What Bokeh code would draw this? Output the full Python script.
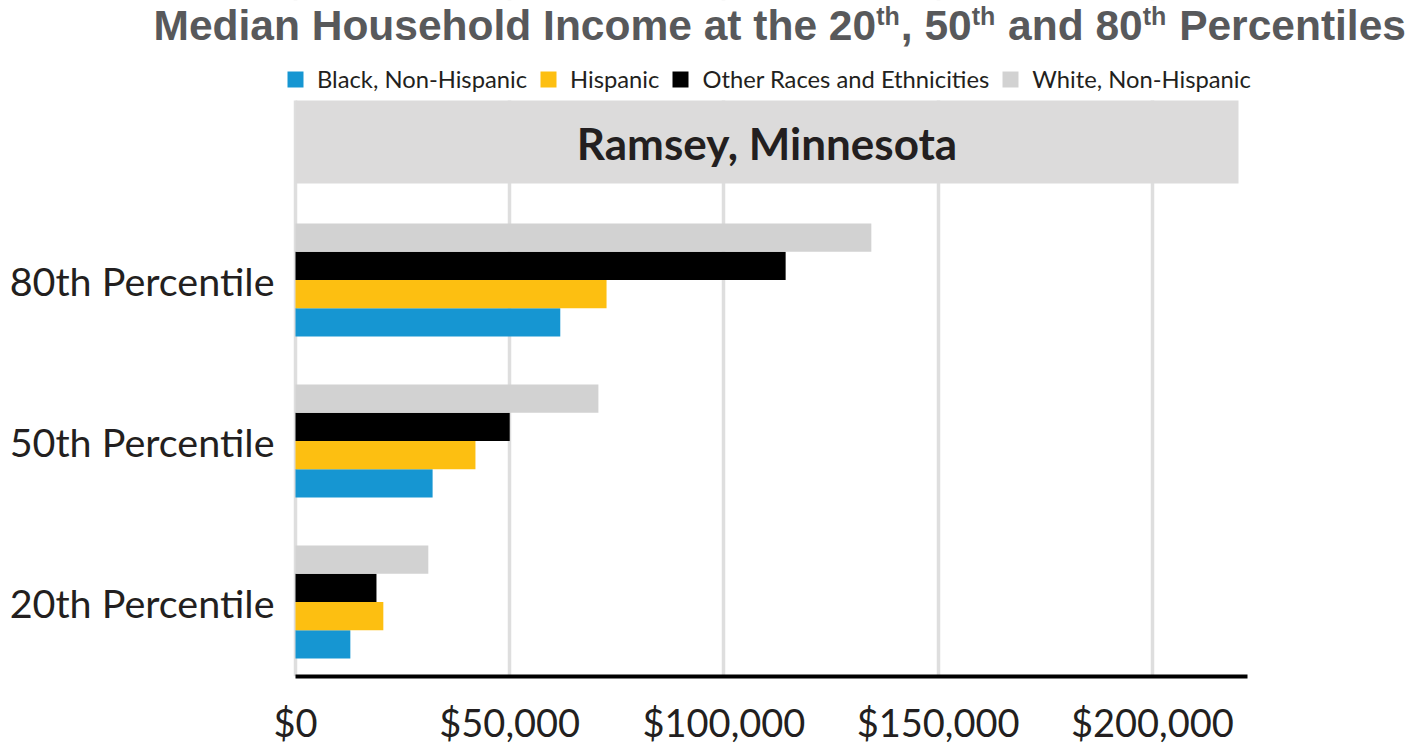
from bokeh.plotting import figure
from bokeh.models import (ColumnDataSource, FixedTicker, NumeralTickFormatter,
                          BoxAnnotation, Label, Legend, LegendItem, Range1d)
from bokeh.core.properties import value
from bokeh.transform import dodge
from bokeh.embed import file_html
from bokeh.resources import INLINE

# ---------------- data ----------------
categories = ["20th Percentile", "50th Percentile", "80th Percentile"]
series_names = ["Black, Non-Hispanic", "Hispanic", "Other Races and Ethnicities", "White, Non-Hispanic"]
black_nh = [12800, 32000, 61800]
hispanic = [20500, 42000, 72600]
other_races = [18900, 50000, 114400]
white_nh = [31000, 70700, 134400]
x_ticks = [0, 50000, 100000, 150000, 200000]
facet_label = "Ramsey, Minnesota"
title_parts = [("Median Household Income at the 20", False), ("th", True), (", 50", False),
               ("th", True), (" and 80", False), ("th", True), (" Percentiles", False)]

colors = ["#1696d2", "#fdbf11", "#000000", "#d2d2d2"]

# ---------------- layout helpers (canvas px -> data) ----------------
W, H = 1426, 747
ZERO_PX, AXIS_END_PX = 295, 1247
AXIS_Y_PX = 676
X_PER_PX = 222200 / (AXIS_END_PX - ZERO_PX)
CAT_PX = [601.3, 440.3, 279.5]
PX_PER_CAT = 161.0


def xd(px):
    return (px - ZERO_PX) * X_PER_PX


def yd(py):
    return 2 + (CAT_PX[2] - py) / PX_PER_CAT


p = figure(width=W, height=H, output_backend="svg", toolbar_location=None,
           x_range=Range1d(xd(0), xd(W)), y_range=Range1d(yd(AXIS_Y_PX), yd(0)),
           y_axis_type=None,
           min_border_left=0, min_border_right=0, min_border_top=0,
           min_border_bottom=H - AXIS_Y_PX,
           outline_line_color=None, background_fill_color="white",
           border_fill_color="white")

source = ColumnDataSource(dict(y=list(range(len(categories))), cat=categories,
                               black=black_nh, hisp=hispanic, other=other_races,
                               white=white_nh))

bar_h = 0.1755
offsets = [-1.5 * bar_h, -0.5 * bar_h, 0.5 * bar_h, 1.5 * bar_h]
fields = ["black", "hisp", "other", "white"]
renderers = []
for f, off, c in zip(fields, offsets, colors):
    r = p.hbar(y=dodge("y", off, range=p.y_range), left=0, right=f, height=bar_h,
               fill_color=c, line_color=None, source=source)
    renderers.append(r)

# category labels (y axis)
p.text(x=xd(274), y="y", text="cat", source=source, text_align="right",
       text_baseline="middle", text_font=value("Lato"), text_font_size="39.5px",
       text_color="#231f20")

# x axis
p.xaxis.ticker = FixedTicker(ticks=x_ticks)
p.xaxis.bounds = (0, xd(AXIS_END_PX))
p.xaxis.formatter = NumeralTickFormatter(format="$0,0")
p.xaxis.axis_line_width = 4
p.xaxis.axis_line_color = "black"
p.xaxis.major_tick_line_color = None
p.xaxis.minor_tick_line_color = None
p.xaxis.major_label_text_font = "Lato"
p.xaxis.major_label_text_font_size = "38px"
p.xaxis.major_label_text_color = "#231f20"
p.xaxis.major_label_standoff = 16

p.xgrid.ticker = FixedTicker(ticks=x_ticks)
p.xgrid.grid_line_color = "#dedede"
p.xgrid.grid_line_width = 3.5

# cover for the header zone and the facet strip
p.add_layout(BoxAnnotation(bottom=yd(100), fill_color="white", fill_alpha=1, line_color=None))
p.add_layout(BoxAnnotation(left=0, right=xd(1238), bottom=yd(183), top=yd(100),
                           fill_color="#dcdbdb", fill_alpha=1, line_color=None))
p.add_layout(Label(x=xd(766.5), y=yd(142), text=facet_label, text_align="center",
                   text_baseline="middle", text_font="Lato", text_font_style="bold",
                   text_font_size="44px", text_color="#231f20"))

# title with superscripts
aw = {' ': 278, ',': 278, 'M': 833, 'H': 722, 'I': 278, 'P': 667, 'a': 556, 'c': 556,
      'd': 611, 'e': 556, 'h': 611, 'i': 278, 'l': 278, 'm': 889, 'n': 611, 'o': 611,
      'r': 389, 's': 556, 't': 333, 'u': 611}
MAIN_SZ, SUP_SZ = 42.5, 25
cur = 153.0
for txt, sup in title_parts:
    sz = SUP_SZ if sup else MAIN_SZ
    base = 15.5 if sup else 25
    lead = len(txt) - len(txt.lstrip(" "))
    cur += lead * aw[' '] * sz / 1000.0
    core = txt.strip(" ")
    p.add_layout(Label(x=xd(cur), y=yd(base), text=core, text_align="left",
                       text_baseline="alphabetic", text_font="Liberation Sans",
                       text_font_style="bold", text_font_size=f"{sz}px",
                       text_color="#58595b"))
    cur += sum(aw.get(ch, 556) for ch in core) * sz / 1000.0 + (1 if sup else 0)
    trail = len(txt) - len(txt.rstrip(" "))
    cur += trail * aw[' '] * sz / 1000.0

legend = Legend(items=[LegendItem(label=n, renderers=[r]) for n, r in zip(series_names, renderers)],
                orientation="horizontal", location=(285, AXIS_Y_PX - 93),
                glyph_width=20, glyph_height=20,
                label_standoff=12, spacing=11, padding=0, margin=0,
                border_line_color=None, background_fill_alpha=0,
                label_text_font="Lato", label_text_font_size="23.75px", label_text_color="#231f20")
p.add_layout(legend)

open("out.html", "w").write(file_html(p, INLINE))
